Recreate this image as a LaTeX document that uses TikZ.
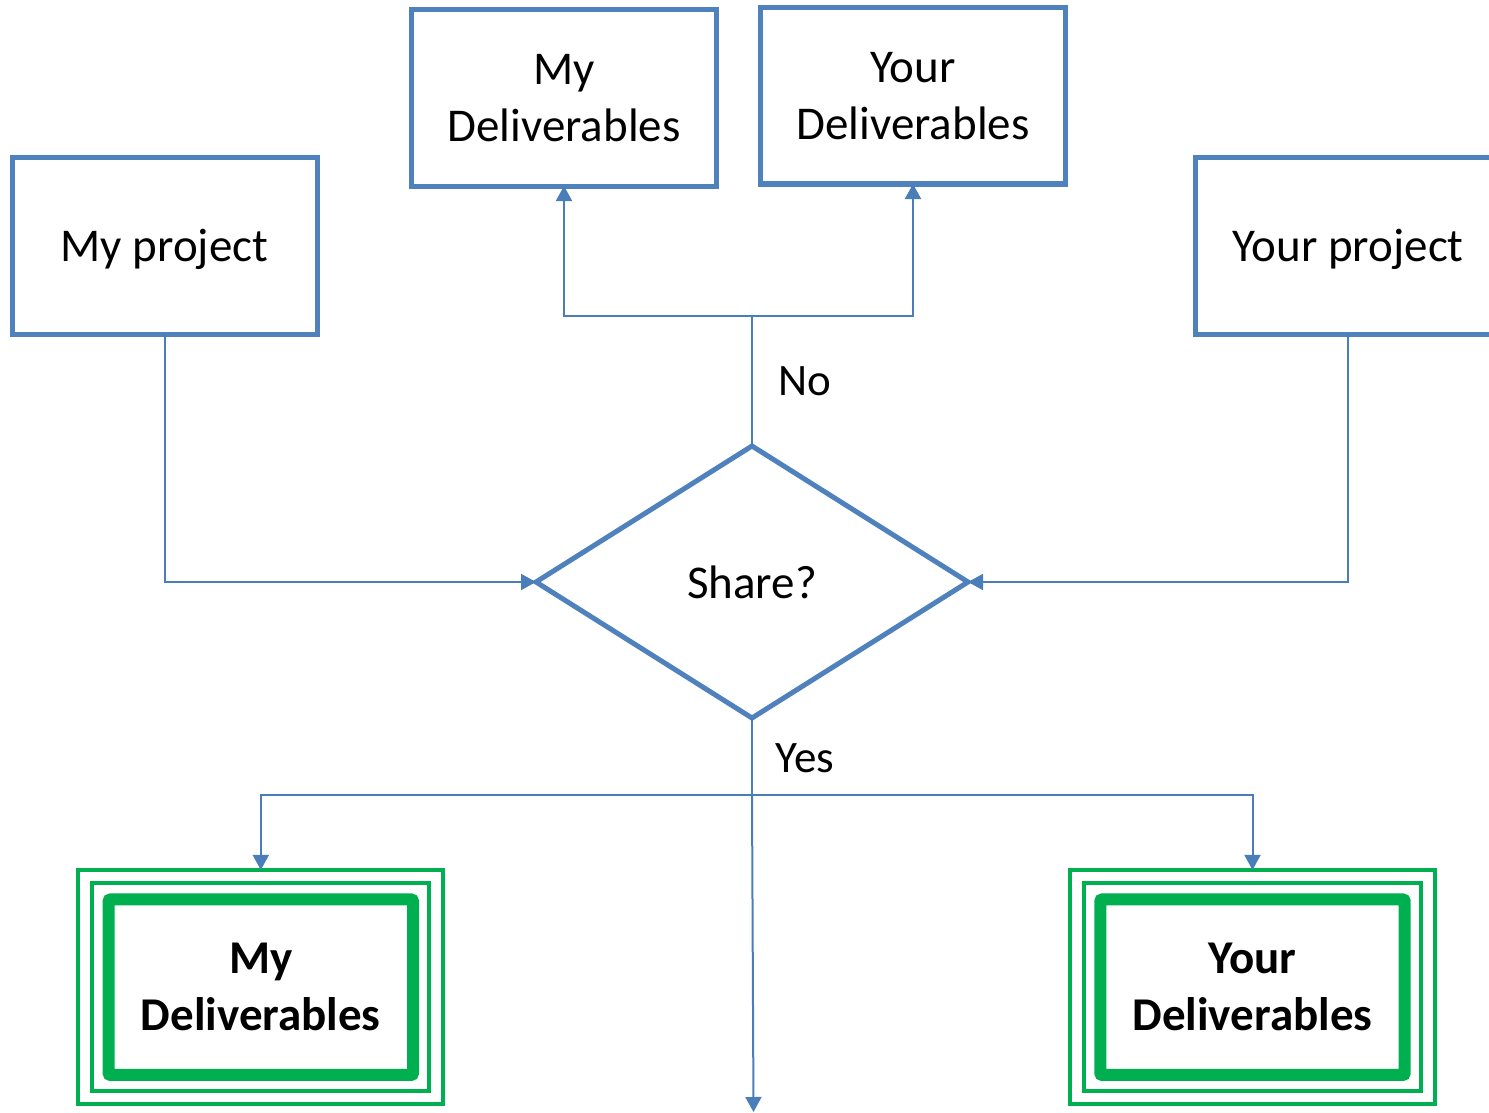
\documentclass[tikz,border=0pt]{standalone}
\usepackage{fontspec}
\setmainfont{Carlito}
\usetikzlibrary{shapes.geometric,arrows.meta}
\definecolor{boxblue}{HTML}{4F81BD}
\definecolor{linkblue}{HTML}{4A7EBB}
\definecolor{okgreen}{HTML}{00B050}
\begin{document}
\begin{tikzpicture}[x=1pt,y=-1pt,
  bigtext/.style={font=\fontsize{47}{57}\selectfont},
  procbox/.style={draw=boxblue,line width=5pt,rectangle,minimum width=305pt,minimum height=176pt,
    inner sep=0pt,outer sep=0pt,align=center,bigtext},
  oneline/.style={text height=40pt,text depth=9.5pt},
  decision/.style={draw=boxblue,line width=5pt,diamond,aspect=1.588,minimum width=432pt,
    minimum height=272pt,inner sep=0pt,outer sep=0pt,bigtext},
  outcome/.style={draw=okgreen,line width=4pt,rectangle,minimum width=365pt,minimum height=234.5pt,
    inner sep=0pt,outer sep=0pt,align=center,font=\fontsize{47}{57}\selectfont\bfseries},
  ring/.style={draw=okgreen,line width=4pt},
  thickring/.style={draw=okgreen,line width=12pt,rounded corners=2pt},
  conn/.style={draw=linkblue,line width=2pt,-{Triangle[length=15pt,width=16pt]}},
  plainconn/.style={draw=linkblue,line width=2pt},
  tag/.style={font=\fontsize{45}{54}\selectfont,inner sep=0pt}]
\useasboundingbox (0,0) rectangle (1489,1113);

% process boxes
\node[procbox,oneline] (myproj) at (164.5,246) {My project};
\node[procbox,oneline] (yourproj) at (1348,246) {Your project};
\node[procbox] (mydel) at (564,98) {My\\Deliverables};
\node[procbox] (yourdel) at (913,96) {Your\\Deliverables};

% decision
\node[decision] (share) at (752,582) {Share?};

% outcome boxes with nested green frames
\node[outcome] (mygreen) at (260.8,987.2) {My\\Deliverables};
\node[outcome] (yourgreen) at (1252.5,987.2) {Your\\Deliverables};
\foreach \b in {mygreen,yourgreen}{
  \draw[ring] ([xshift=13.5pt,yshift=-13pt]\b.north west) rectangle ([xshift=-14pt,yshift=13pt]\b.south east);
  \draw[thickring] ([xshift=30.3pt,yshift=-29.5pt]\b.north west) rectangle ([xshift=-30.3pt,yshift=29.5pt]\b.south east);
}

% inputs into the decision
\draw[conn] (myproj.south) |- (share.west);
\draw[conn] (yourproj.south) |- (share.east);

% "No" branch
\coordinate (nosplit) at (752,316);
\draw[plainconn] (share.north) -- (nosplit);
\draw[conn] (nosplit) -| (mydel.south);
\draw[conn] (nosplit) -| (yourdel.south);
\node[tag] (nolabel) at (805,381) {No};

% "Yes" branch
\coordinate (yessplit) at (752,795);
\coordinate (exitpt) at (753.5,1112);
\draw[plainconn] (share.south) -- (yessplit);
\draw[conn] (yessplit) -| (mygreen.north);
\draw[conn] (yessplit) -| (yourgreen.north);
\draw[conn] (yessplit) -- (exitpt);
\node[tag] (yeslabel) at (805,758) {Yes};
\end{tikzpicture}
\end{document}
